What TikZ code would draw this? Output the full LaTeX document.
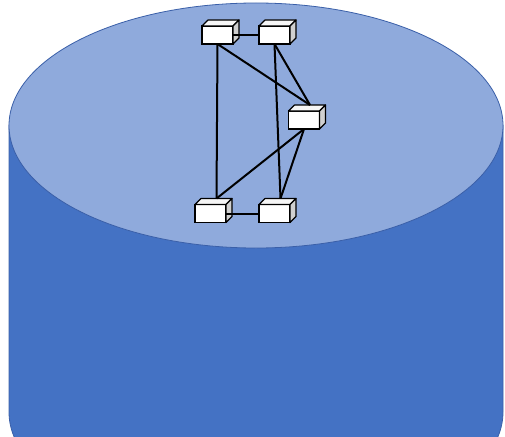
\documentclass[tikz,border=0pt]{standalone}
\usetikzlibrary{calc}
\definecolor{topblue}{HTML}{8FAADC}
\definecolor{bodyblue}{HTML}{4472C4}
\definecolor{rimblue}{HTML}{3A5FA8}
\definecolor{sidegray}{HTML}{D0D0D0}
\definecolor{topwhite}{HTML}{F6F6F6}
\newcommand\boxfaces[1]{%
  \draw[face, fill=topwhite] (#1.north west) -- ++(6,-6) -- ++(31,0) -- (#1.north east) -- cycle;
  \draw[face, fill=sidegray] (#1.north east) -- ++(6,-6) -- ++(0,18) -- (#1.south east) -- cycle;
  \path (#1.north) ++(6,-6) coordinate (#1t);
}
\begin{document}
\begin{tikzpicture}[x=1pt,y=-1pt,
  front/.style={draw=black, fill=white, line width=1.2pt, minimum width=31pt, minimum height=18pt, inner sep=0pt, outer sep=0pt},
  face/.style={draw=black, line width=1.2pt, line join=round},
  link/.style={draw=black, line width=2pt}]
\useasboundingbox (0,0) rectangle (505,436);
% cylinder body
\draw[fill=bodyblue, draw=rimblue, line width=0.8pt]
  (9,125) -- (9,412) arc[start angle=180, end angle=360, x radius=247pt, y radius=122pt] -- (503,125) -- cycle;
% top ellipse
\draw[fill=topblue, draw=rimblue, line width=0.8pt] (256,125.5) ellipse[x radius=247pt, y radius=122.5pt];
% boxes
\node[front] (A) at (217.5,35) {};
\node[front] (B) at (274.5,35) {};
\node[front] (C) at (304,120) {};
\node[front] (D) at (210.5,213.5) {};
\node[front] (E) at (274.5,213.5) {};
\boxfaces{A}\boxfaces{B}\boxfaces{C}\boxfaces{D}\boxfaces{E}
% links
\draw[link] (A.east) -- (B.west);
\draw[link] (D.east) -- (E.west);
\draw[link] (A.south) -- (Dt);
\draw[link] (A.south) -- (Ct);
\draw[link] (B.south) -- (Ct);
\draw[link] (B.south) -- (Et);
\draw[link] (C.south) -- (Dt);
\draw[link] (C.south) -- (Et);
\end{tikzpicture}
\end{document}
